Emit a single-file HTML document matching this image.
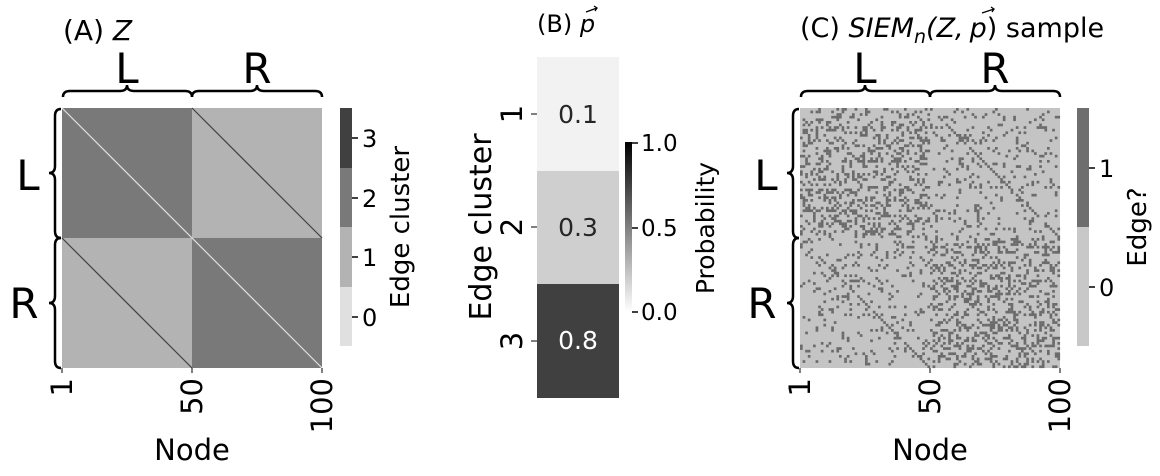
<!DOCTYPE html>
<html><head><meta charset="utf-8"><style>
body{margin:0;background:#fff;}
svg{display:block;font-family:"DejaVu Sans","Liberation Sans",sans-serif;}
</style></head><body>
<svg id="s" width="1160" height="476" viewBox="0 0 1160 476" xmlns="http://www.w3.org/2000/svg">
<defs>
<linearGradient id="gr" x1="0" y1="1" x2="0" y2="0"><stop offset="0" stop-color="#fff"/><stop offset="1" stop-color="#000"/></linearGradient>
</defs>
<!-- Panel A -->
<text x="63" y="40" font-size="28">(A) <tspan font-style="italic">Z</tspan></text>
<rect x="62" y="108" width="130" height="130" fill="#797979"/>
<rect x="192" y="108" width="130" height="130" fill="#b3b3b3"/>
<rect x="62" y="238" width="130" height="130" fill="#b3b3b3"/>
<rect x="192" y="238" width="130" height="130" fill="#797979"/>
<line x1="62" y1="108" x2="322" y2="368" stroke="#e0e0e0" stroke-width="1.2"/>
<line x1="192" y1="108" x2="322" y2="238" stroke="#404040" stroke-width="1.2"/>
<line x1="62" y1="238" x2="192" y2="368" stroke="#404040" stroke-width="1.2"/>
<g fill="none" stroke="#000" stroke-width="2.5">
<path d="M63,97 Q63,91 70,91 L120,91 Q127,91 127,85 Q127,91 134,91 L185,91 Q192,91 192,97"/>
<path d="M192,97 Q192,91 199,91 L250,91 Q257,91 257,85 Q257,91 264,91 L315,91 Q322,91 322,97"/>
<path d="M61,109 Q55,109 55,116 L55,166 Q55,173 49,173 Q55,173 55,180 L55,231 Q55,238 61,238"/>
<path d="M61,238 Q55,238 55,245 L55,296 Q55,303 49,303 Q55,303 55,310 L55,361 Q55,368 61,368"/>
</g>
<text x="127" y="83" font-size="42" text-anchor="middle">L</text>
<text x="257" y="83" font-size="42" text-anchor="middle">R</text>
<text x="28" y="190" font-size="42" text-anchor="middle">L</text>
<text x="24" y="318" font-size="42" text-anchor="middle">R</text>
<g stroke="#000" stroke-width="1"><line x1="62" y1="368" x2="62" y2="373"/><line x1="192" y1="368" x2="192" y2="373"/><line x1="322" y1="368" x2="322" y2="373"/></g>
<g font-size="29" text-anchor="end">
<text transform="translate(72,378) rotate(-90)">1</text>
<text transform="translate(202,378) rotate(-90)">50</text>
<text transform="translate(332,378) rotate(-90)">100</text>
</g>
<text x="192" y="460" font-size="29" text-anchor="middle">Node</text>
<rect x="340" y="108" width="12" height="60" fill="#404040"/>
<rect x="340" y="168" width="12" height="59" fill="#797979"/>
<rect x="340" y="227" width="12" height="60" fill="#b3b3b3"/>
<rect x="340" y="287" width="12" height="59" fill="#e0e0e0"/>
<g stroke="#000" stroke-width="1.5"><line x1="352" y1="138" x2="358" y2="138"/><line x1="352" y1="198" x2="358" y2="198"/><line x1="352" y1="257" x2="358" y2="257"/><line x1="352" y1="317" x2="358" y2="317"/></g>
<g font-size="24"><text x="362" y="147">3</text><text x="362" y="207">2</text><text x="362" y="266">1</text><text x="362" y="326">0</text></g>
<text transform="translate(409,227) rotate(-90)" font-size="26" text-anchor="middle">Edge cluster</text>
<!-- Panel B -->
<text x="537" y="32" font-size="24">(B) <tspan font-style="italic">p</tspan></text>
<path d="M586,12 L597,8 M594,6 L597,8 L595,11" stroke="#000" stroke-width="1.3" fill="none"/>
<rect x="537" y="57" width="82" height="114" fill="#f2f2f2"/>
<rect x="537" y="171" width="82" height="113" fill="#cfcfcf"/>
<rect x="537" y="284" width="82" height="114" fill="#404040"/>
<g font-size="25" text-anchor="middle"><text x="578" y="123" fill="#262626">0.1</text><text x="578" y="236" fill="#262626">0.3</text><text x="578" y="349" fill="#fff">0.8</text></g>
<g stroke="#000" stroke-width="1"><line x1="531" y1="114" x2="537" y2="114"/><line x1="531" y1="227" x2="537" y2="227"/><line x1="531" y1="341" x2="537" y2="341"/></g>
<g font-size="29" text-anchor="middle">
<text transform="translate(522,114) rotate(-90)">1</text>
<text transform="translate(522,227) rotate(-90)">2</text>
<text transform="translate(522,341) rotate(-90)">3</text>
</g>
<text transform="translate(491,227) rotate(-90)" font-size="30" text-anchor="middle">Edge cluster</text>
<rect x="625" y="142" width="7" height="170" fill="url(#gr)"/>
<g stroke="#000" stroke-width="1.5"><line x1="632" y1="143" x2="638" y2="143"/><line x1="632" y1="228" x2="638" y2="228"/><line x1="632" y1="312" x2="638" y2="312"/></g>
<g font-size="23"><text x="641" y="151">1.0</text><text x="641" y="236">0.5</text><text x="641" y="320">0.0</text></g>
<text transform="translate(714,228) rotate(-90)" font-size="25" text-anchor="middle">Probability</text>
<!-- Panel C -->
<text x="800" y="37" font-size="27">(C) <tspan font-style="italic">SIEM<tspan font-size="19" dy="6">n</tspan><tspan dy="-6">(Z,</tspan><tspan dx="6">p</tspan></tspan>) sample</text>
<path d="M982,13 L994,9 M991,7 L994,9 L992,12" stroke="#000" stroke-width="1.3" fill="none"/>
<rect x="800" y="108" width="260" height="260" fill="#c4c4c4"/>
<g id="cells" fill="#6b6b6b"></g>
<g fill="none" stroke="#000" stroke-width="2.5">
<path d="M801,97 Q801,91 808,91 L858,91 Q865,91 865,85 Q865,91 872,91 L923,91 Q930,91 930,97"/>
<path d="M930,97 Q930,91 937,91 L988,91 Q995,91 995,85 Q995,91 1002,91 L1053,91 Q1060,91 1060,97"/>
<path d="M799,109 Q793,109 793,116 L793,166 Q793,173 787,173 Q793,173 793,180 L793,231 Q793,238 799,238"/>
<path d="M799,238 Q793,238 793,245 L793,296 Q793,303 787,303 Q793,303 793,310 L793,361 Q793,368 799,368"/>
</g>
<text x="865" y="83" font-size="42" text-anchor="middle">L</text>
<text x="995" y="83" font-size="42" text-anchor="middle">R</text>
<text x="766" y="190" font-size="42" text-anchor="middle">L</text>
<text x="762" y="318" font-size="42" text-anchor="middle">R</text>
<g stroke="#000" stroke-width="1"><line x1="800" y1="368" x2="800" y2="373"/><line x1="930" y1="368" x2="930" y2="373"/><line x1="1060" y1="368" x2="1060" y2="373"/></g>
<g font-size="29" text-anchor="end">
<text transform="translate(810,378) rotate(-90)">1</text>
<text transform="translate(940,378) rotate(-90)">50</text>
<text transform="translate(1070,378) rotate(-90)">100</text>
</g>
<text x="930" y="460" font-size="29" text-anchor="middle">Node</text>
<rect x="1077" y="108" width="12" height="119" fill="#6e6e6e"/>
<rect x="1077" y="227" width="12" height="119" fill="#c8c8c8"/>
<g stroke="#000" stroke-width="1.5"><line x1="1089" y1="168" x2="1095" y2="168"/><line x1="1089" y1="287" x2="1095" y2="287"/></g>
<g font-size="24"><text x="1099" y="177">1</text><text x="1099" y="296">0</text></g>
<text transform="translate(1146,227) rotate(-90)" font-size="26" text-anchor="middle">Edge?</text>
</svg>
<script>
(function(){
var s=12345;function r(){s=(s*1103515245+12345)%2147483648;return s/2147483648;}
var g=document.getElementById('cells'),c=2.6,out='';
for(var i=0;i<100;i++)for(var j=0;j<100;j++){
 if(i==j)continue;
 var same=(i<50)==(j<50);var p=same?0.3:0.1;
 if(Math.abs(i-j)==50)p=0.8;
 if(r()<p){out+='<rect x="'+(800+j*c).toFixed(1)+'" y="'+(108+i*c).toFixed(1)+'" width="2.7" height="2.7"/>';}
}
g.innerHTML=out;
})();
</script>
</body></html>
